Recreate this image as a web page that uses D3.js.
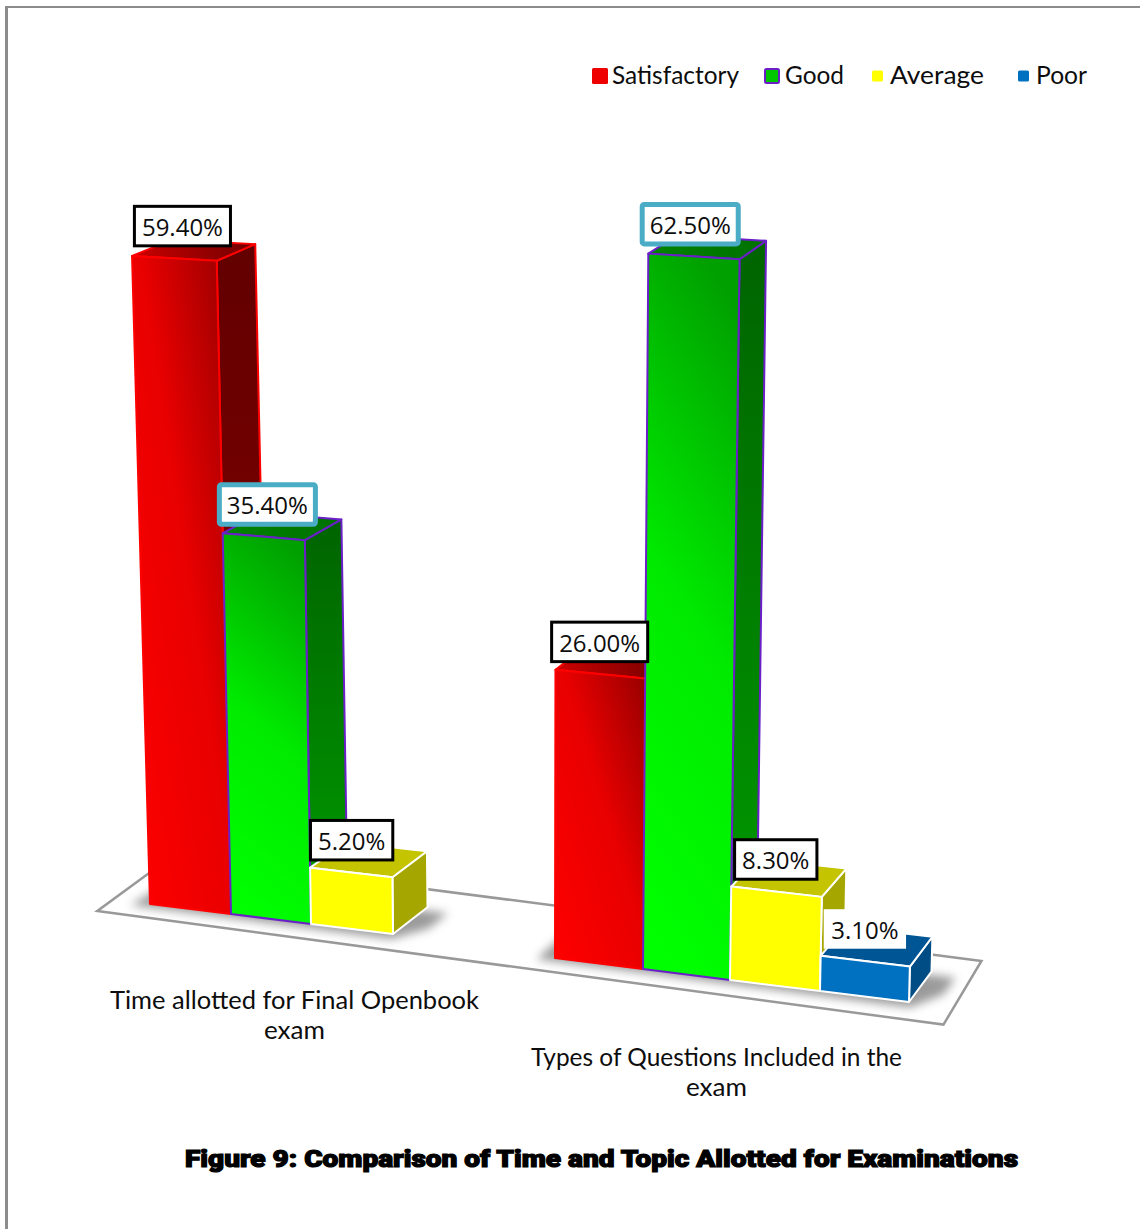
<!DOCTYPE html>
<html>
<head>
<meta charset="utf-8">
<script src="https://cdn.jsdelivr.net/npm/d3@7/dist/d3.min.js"></script>
<style>
  html, body { margin: 0; padding: 0; background: #fff; }
  svg { display: block; }
  text { font-family: Lato, "Open Sans", sans-serif; fill: #0d0d0d; }
</style>
</head>
<body>
<svg id="chart" width="1140" height="1229"></svg>
<script>
// Chart values, in percent
const categories = [
  ["Time allotted for Final Openbook", "exam"],
  ["Types of Questions Included in the", "exam"]
];
const seriesNames = ["Satisfactory", "Good", "Average", "Poor"];
const satisfactory = [59.4, 26.0];
const good = [35.4, 62.5];
const average = [5.2, 8.3];
const poor = [null, 3.1];
const figureTitle = "Figure 9: Comparison of Time and Topic Allotted for Examinations";

const seriesValues = [satisfactory, good, average, poor];

// Appearance of each series: faces, outline and label frame
const looks = [
  { stroke: "#ff0000", top: ["#cc0000", "#700000"], side: ["#620000", "#8c0000"],
    stops: [[0, "#ff0000"], [0.55, "#e80000"], [1, "#960000"]], frame: "#000", frameW: 3 },
  { stroke: "#6a1fc8", top: ["#008400", "#007000"], side: ["#006400", "#009c00"],
    stops: [[0, "#00ff00"], [0.5, "#00ea00"], [1, "#00a000"]], frame: "#4bacc6", frameW: 5 },
  { stroke: "#ffffff", top: ["#c4c400", "#c4c400"], side: ["#a6a600", "#a6a600"],
    stops: [[0, "#ffff00"], [1, "#ffff00"]], frame: "#000", frameW: 3 },
  { stroke: "#ffffff", top: ["#005594", "#005594"], side: ["#004c85", "#004c85"],
    stops: [[0, "#0070c0"], [1, "#0070c0"]], frame: "none", frameW: 0 }
];

const svg = d3.select("#chart");
const defs = svg.append("defs");

// Slot numbering along the floor: each category owns five slots, four bars and a gap
const slotsPerGroup = 5;

// Perspective scales: where a slot meets the floor, how high a value rises, how far it leans
const baseX = d3.scaleLinear().domain([0, 1, 2, 3, 5, 6, 7, 8, 9])
  .range([150, 231, 311, 393, 555, 643, 730, 820, 909]);
const baseY = d3.scaleLinear().domain([0, 3, 5, 9]).range([904, 934, 958, 1002]);
const rise = d3.scaleLinear().domain([0, 35, 65]).range([0, 379, 722]);
const riseBySlot = d3.scaleLinear().domain([0, 9]).range([0.985, 1.055]);
const lean = d3.scaleLinear().domain([0, 9]).range([-0.0277, 0.025]);
const depthX = d3.scaleLinear().domain([0, 9]).range([40.5, 22.5]);
const depthY = d3.scaleLinear().domain([0, 9]).range([25, 30.4]);
const depthByValue = d3.scaleLinear().domain([0, 170]).range([1, 0]);

// Projects slot, value and depth (0 at the front, 1 at the back) to the page
function project(slot, value, depth = 0) {
  const r = rise(value) * riseBySlot(slot);
  return [
    baseX(slot) + lean(slot) * r + depth * depthX(slot),
    baseY(slot) - r - depth * depthY(slot) * depthByValue(value)
  ];
}

const polygon = d3.line().curve(d3.curveLinearClosed);

// Page frame along the top and left
svg.append("line").attr("x1", 6).attr("y1", 7).attr("x2", 1140).attr("y2", 7)
  .attr("stroke", "#8c8c8c").attr("stroke-width", 2);
svg.append("line").attr("x1", 6.5).attr("y1", 6).attr("x2", 6.5).attr("y2", 1229)
  .attr("stroke", "#8c8c8c").attr("stroke-width", 3);

// Floor plate, corners given as slot and depth
const floorCorners = [[-0.42, -0.45], [9.52, -0.55], [9.45, 1.5], [-0.6, 1.7]];
svg.append("path")
  .attr("d", polygon(floorCorners.map(([slot, depth]) => project(slot, 0, depth))))
  .attr("fill", "#fff").attr("stroke", "#999").attr("stroke-width", 2.5)
  .attr("stroke-linejoin", "miter");

// Soft shadows cast on the floor
defs.append("filter").attr("id", "soft").attr("x", "-20%").attr("y", "-40%")
  .attr("width", "140%").attr("height", "180%")
  .append("feGaussianBlur").attr("stdDeviation", 5);

categories.forEach((_, g) => {
  const used = seriesValues.map((s, i) => (s[g] == null ? -1 : i));
  const first = g * slotsPerGroup, last = first + d3.max(used) + 1;
  svg.append("path")
    .attr("d", polygon([
      project(first - 0.18, 0, -0.12), project(last + 0.05, 0, -0.16),
      project(last + 0.3, 0, 0.35), project(last + 0.3, 0, 0.9), project(first - 0.18, 0, 0.9)
    ]))
    .attr("fill", "#4a4a4a").attr("opacity", 0.55).attr("filter", "url(#soft)");
});

// Flatten the series into one drawable list, ordered from left to right
const bars = [];
categories.forEach((_, g) => {
  seriesValues.forEach((values, s) => {
    if (values[g] != null) bars.push({ g, s, value: values[g], slot: g * slotsPerGroup + s });
  });
});

function gradient(id, [x1, y1, x2, y2], stops) {
  const lg = defs.append("linearGradient").attr("id", id)
    .attr("x1", x1).attr("y1", y1).attr("x2", x2).attr("y2", y2);
  stops.forEach(([o, c]) => lg.append("stop").attr("offset", o).attr("stop-color", c));
  return `url(#${id})`;
}

const barGroups = svg.append("g").selectAll("g").data(bars).join("g");

barGroups.each(function (d, i) {
  const look = looks[d.s];
  const u0 = d.slot, u1 = d.slot + 1, v = d.value;
  const g = d3.select(this);
  const faces = [
    { name: "side", pts: [project(u1, v), project(u1, v, 1), project(u1, 0, 1), project(u1, 0)],
      dir: [0, 0, 0, 1], stops: [[0, look.side[0]], [1, look.side[1]]] },
    { name: "top", pts: [project(u0, v), project(u0, v, 1), project(u1, v, 1), project(u1, v)],
      dir: [0, 0, 1, 0], stops: [[0, look.top[0]], [1, look.top[1]]] },
    { name: "front", pts: [project(u0, v), project(u1, v), project(u1, 0), project(u0, 0)],
      dir: d.s === 1 ? [0.4, 1, 0.6, 0] : [0, 1, 1, 0], stops: look.stops }
  ];
  g.selectAll("path").data(faces).join("path")
    .attr("d", f => polygon(f.pts))
    .attr("fill", f => gradient(`face-${i}-${f.name}`, f.dir, f.stops))
    .attr("stroke", look.stroke).attr("stroke-width", 2).attr("stroke-linejoin", "round");
});

// Value labels, placed above each bar's front face
const labels = svg.append("g").selectAll("g").data(bars).join("g")
  .attr("transform", d => {
    const mid = d.slot + 0.5;
    const [tx, ty] = project(mid, d.value);
    const [bx] = project(mid, 0);
    return `translate(${(tx + bx) / 2},${ty - 32})`;
  });
labels.append("rect");
labels.append("text")
  .attr("text-anchor", "middle").attr("dy", "0.4em")
  .style("font-size", "24px")
  .style("font-family", "'Open Sans', Lato, sans-serif")
  .text(d => d3.format(".2f")(d.value) + "%");
labels.each(function (d) {
  const look = looks[d.s];
  const w = this.querySelector("text").getComputedTextLength() + 15;
  d3.select(this).select("rect")
    .attr("x", -w / 2).attr("y", -20).attr("width", w).attr("height", 39.5)
    .attr("rx", d.s === 1 ? 2 : 0)
    .attr("fill", "#fff")
    .attr("stroke", look.frame).attr("stroke-width", look.frameW);
});

// Category captions under each group of bars
const captionWidths = [[369, 61], [371, 61]];
const captionShift = [[-16.5, 85], [-13.5, 86]];
categories.forEach((lines, g) => {
  const mid = g * slotsPerGroup + 2;
  const x = baseX(mid) + captionShift[g][0], y = baseY(mid) + captionShift[g][1];
  lines.forEach((line, i) => {
    svg.append("text").attr("x", x).attr("y", y + i * 30)
      .attr("text-anchor", "middle").style("font-size", "25px")
      .attr("textLength", captionWidths[g][i]).attr("lengthAdjust", "spacingAndGlyphs")
      .text(line);
  });
});

// Legend across the top right
const legendItems = [
  { x: 592, size: 16, text: 612, len: 127, stroke: "none" },
  { x: 765, size: 14, text: 785, len: 59, stroke: "#6a1fc8" },
  { x: 872, size: 11, text: 890, len: 94, stroke: "none" },
  { x: 1018, size: 11, text: 1036, len: 51, stroke: "none" }
];
const legendFill = ["#ee0000", "#00c800", "#ffff00", "#0070c0"];
const legend = svg.append("g").selectAll("g").data(seriesNames).join("g");
legend.append("rect")
  .attr("x", (_, i) => legendItems[i].x)
  .attr("y", (_, i) => 76 - legendItems[i].size / 2)
  .attr("width", (_, i) => legendItems[i].size)
  .attr("height", (_, i) => legendItems[i].size)
  .attr("rx", 1.5)
  .attr("fill", (_, i) => legendFill[i])
  .attr("stroke", (_, i) => legendItems[i].stroke)
  .attr("stroke-width", 2);
legend.append("text")
  .attr("x", (_, i) => legendItems[i].text).attr("y", 84)
  .attr("textLength", (_, i) => legendItems[i].len)
  .attr("lengthAdjust", "spacingAndGlyphs")
  .style("font-size", "25px")
  .text(d => d);

// Figure caption
svg.append("text").attr("x", 185).attr("y", 1167)
  .attr("textLength", 833).attr("lengthAdjust", "spacingAndGlyphs")
  .style("font-family", "Roboto, sans-serif").style("font-weight", 900).style("font-size", "24px")
  .style("fill", "#000").style("stroke", "#000").style("stroke-width", 1.2)
  .text(figureTitle);
</script>
</body>
</html>
